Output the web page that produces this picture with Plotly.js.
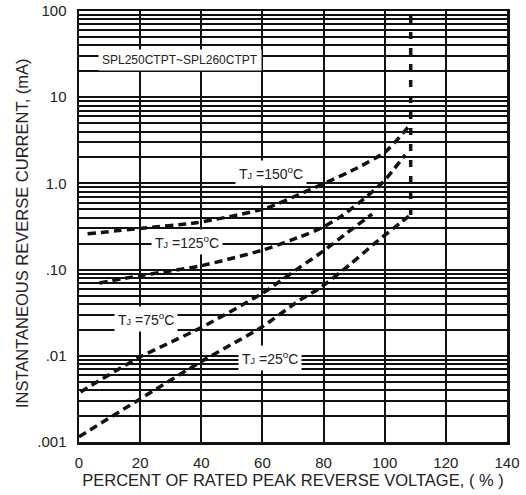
<!DOCTYPE html>
<html>
<head>
<meta charset="utf-8">
<script src="https://cdn.plot.ly/plotly-3.0.1.min.js"></script>
<style>html,body{margin:0;padding:0;background:#fff;}#chart{width:526px;height:495px;}</style>
</head>
<body>
<div id="chart"></div>
<script>
// ---- data ----
const x150 = [2.8, 19.8, 38.5, 60.8, 73.3, 80.5, 91.0, 100.2, 107.7];
const y150 = [0.26, 0.30, 0.35, 0.51, 0.78, 1.01, 1.51, 2.32, 4.5];

const x125 = [6.7, 19.5, 39.5, 60.2, 72.3, 79.8, 86.4, 92.0, 99.5, 106.7];
const y125 = [0.070, 0.0845, 0.110, 0.169, 0.24, 0.31, 0.43, 0.61, 1.04, 2.14];

const x75 = [0.5, 19.5, 39.8, 60.2, 72.3, 79.5, 87.7, 95.9];
const y75 = [0.0038, 0.0095, 0.0211, 0.0537, 0.107, 0.160, 0.267, 0.44];

const x25 = [0, 19.5, 39.8, 59.8, 72.3, 78.9, 88.7, 96.9, 105.1, 108.4];
const y25 = [0.00115, 0.00308, 0.0085, 0.0216, 0.0445, 0.0614, 0.115, 0.204, 0.348, 0.43];

const xLimit = [108.5, 108.5];
const yLimit = [0.43, 90];

const xTickVals = [0, 20, 40, 60, 80, 100, 120, 140];
const xTickText = ["0", "20", "40", "60", "80", "100", "120", "140"];

const yTickVals = [0.001, 0.01, 0.1, 1, 10, 100];
const yTickText = [".001", ".01", ".10", "1.0", "10", "100"];
const digits = [2, 3, 4, 5, 6, 7, 8, 9];

const xTitle = "PERCENT OF RATED PEAK REVERSE VOLTAGE, ( % )";
const yTitle = "INSTANTANEOUS REVERSE CURRENT, (mA)";
const partLabel = "SPL250CTPT~SPL260CTPT";
const tempLabels = ["150", "125", "75", "25"];

// ---- minor gridlines at 2..9 of each decade ----
const yMinorVals = [];
yTickVals.slice(0, -1).forEach(d => digits.forEach(k => yMinorVals.push(+(d * k).toPrecision(3))));

const dashLine = {color: "#111", width: 3.5, dash: "8px,5px", shape: "spline", smoothing: 0.6};

const traces = [
  {x: x150, y: y150, mode: "lines", line: dashLine, name: "TJ=150", hoverinfo: "skip"},
  {x: x125, y: y125, mode: "lines", line: dashLine, name: "TJ=125", hoverinfo: "skip"},
  {x: x75, y: y75, mode: "lines", line: dashLine, name: "TJ=75", hoverinfo: "skip"},
  {x: x25, y: y25, mode: "lines", line: dashLine, name: "TJ=25", hoverinfo: "skip"},
  {x: xLimit, y: yLimit, mode: "lines", line: {color: "#111", width: 3.5, dash: "7px,9px"}, name: "limit", hoverinfo: "skip"}
];

const fontFam = "Liberation Sans, Arial, Helvetica, sans-serif";
const tj = t => 'T<span style="font-size:9px">J</span> =' + t + '<sup>o</sup>C';

function lab(text, x, ly) {
  return {text: text, x: x, y: ly, xref: "x", yref: "y", showarrow: false,
    bgcolor: "#ffffff", borderpad: 3, font: {family: fontFam, size: 14, color: "#222"}};
}

const layout = {
  width: 526, height: 495,
  margin: {l: 79, r: 19, t: 11, b: 53},
  paper_bgcolor: "#fff", plot_bgcolor: "#fff",
  showlegend: false,
  font: {family: fontFam, color: "#222"},
  xaxis: {
    range: [0, 140], tickvals: xTickVals, ticktext: xTickText,
    showgrid: true, gridcolor: "#111", gridwidth: 2,
    showline: true, mirror: true, linecolor: "#111", linewidth: 2.5,
    ticks: "", ticklabelstandoff: 5, zeroline: false,
    tickfont: {family: fontFam, size: 15, color: "#222"},
    title: {text: xTitle, font: {family: fontFam, size: 16.5, color: "#222"}, standoff: 5}
  },
  yaxis: {
    type: "log", range: [-3, 2], tickvals: yTickVals, ticktext: yTickText,
    showgrid: true, gridcolor: "#111", gridwidth: 2,
    minor: {tickvals: yMinorVals, showgrid: true, gridcolor: "#111", gridwidth: 2, ticks: ""},
    showline: true, mirror: true, linecolor: "#111", linewidth: 2.5,
    ticks: "", ticklabelstandoff: 7, zeroline: false,
    tickfont: {family: fontFam, size: 15, color: "#222"}
  },
  annotations: [
    {text: yTitle, xref: "paper", yref: "paper", x: -0.133, y: 0.485, textangle: -90,
      showarrow: false, xanchor: "center", yanchor: "middle",
      font: {family: fontFam, size: 16.5, color: "#222"}},
    Object.assign(lab(partLabel, 33, 1.433), {font: {family: fontFam, size: 12, color: "#222"}}),
    lab(tj(tempLabels[0]), 62.8, 0.122),
    lab(tj(tempLabels[1]), 35.2, -0.679),
    lab(tj(tempLabels[2]), 22, -1.572),
    lab(tj(tempLabels[3]), 62.5, -2.024)
  ]
};

Plotly.newPlot("chart", traces, layout, {staticPlot: true, displayModeBar: false});
</script>
</body>
</html>
